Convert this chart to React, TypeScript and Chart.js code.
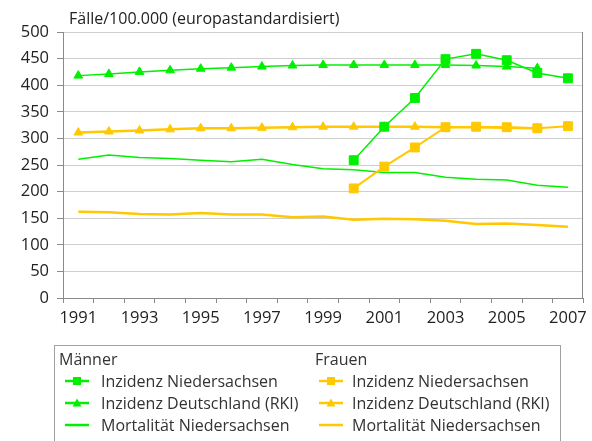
import React, { useEffect, useRef } from 'react';
import { Chart, registerables } from 'chart.js';

Chart.register(...registerables);

const years = ['1991', '1992', '1993', '1994', '1995', '1996', '1997', '1998', '1999', '2000', '2001', '2002', '2003', '2004', '2005', '2006', '2007'];

const menIncNds = [null, null, null, null, null, null, null, null, null, 259, 322, 376, 449, 459, 447, 423, 413];
const menIncRki = [418, 421, 425, 428, 431, 433, 435, 437, 438, 438, 438, 438, 438, 437, 435, 432, null];
const menMortNds = [261, 269, 264, 262, 259, 256, 261, 251, 243, 241, 236, 236, 227, 223, 222, 212, 208];
const womenIncNds = [null, null, null, null, null, null, null, null, null, 206, 247, 283, 321, 322, 321, 319, 323];
const womenIncRki = [311, 313, 315, 317, 319, 319, 320, 321, 322, 322, 322, 322, 321, 321, 320, 319, null];
const womenMortNds = [162, 161, 158, 157, 160, 157, 157, 152, 153, 147, 149, 148, 145, 139, 140, 137, 134];

const yMin = 0;
const yMax = 500;
const yStep = 50;

const yTitle = 'Fälle/100.000 (europastandardisiert)';
const groupMen = 'Männer';
const groupWomen = 'Frauen';
const seriesNames = ['Inzidenz Niedersachsen', 'Inzidenz Deutschland (RKI)', 'Mortalität Niedersachsen'];

const GREEN = '#00f000';
const YELLOW = '#ffc800';
const AXIS = '#8a8a8a';
const GRID = '#cfcfcf';
const TXT = '#222222';
const FONT = '"Open Sans", "Noto Sans", sans-serif';

function Marker({ color, kind }: { color: string; kind: 'rect' | 'tri' | 'line' }) {
  return (
    <svg width={24} height={12} style={{ display: 'block' }}>
      <line x1={0} y1={6} x2={24} y2={6} stroke={color} strokeWidth={2.5} />
      {kind === 'rect' && <rect x={8} y={2} width={8} height={8} fill={color} />}
      {kind === 'tri' && <polygon points="12,1.5 16.5,9.5 7.5,9.5" fill={color} />}
    </svg>
  );
}

export default function App() {
  const ref = useRef<HTMLCanvasElement>(null);

  useEffect(() => {
    document.body.style.margin = '0';
    const canvas = ref.current;
    if (!canvas) return;

    const borderPlugin = {
      id: 'rightBorder',
      afterDraw(chart: any) {
        const { ctx, chartArea } = chart;
        ctx.save();
        ctx.strokeStyle = AXIS;
        ctx.lineWidth = 1;
        const x = Math.round(chartArea.right) - 0.5;
        ctx.beginPath();
        ctx.moveTo(x, chartArea.top);
        ctx.lineTo(x, chartArea.bottom);
        ctx.stroke();
        ctx.restore();
      },
    };

    const mk = (data: (number | null)[], color: string, style: 'rect' | 'triangle' | false, width: number) => ({
      data,
      borderColor: color,
      backgroundColor: color,
      borderWidth: width,
      pointStyle: style || 'circle',
      pointRadius: style === 'rect' ? 6.3 : style === 'triangle' ? 5 : 0,
      pointBorderWidth: 1,
      pointBorderColor: color,
      pointBackgroundColor: color,
      tension: 0,
      spanGaps: false,
    });

    const chart = new Chart(canvas, {
      type: 'line',
      data: {
        labels: years,
        datasets: [
          { label: groupMen + ' ' + seriesNames[0], ...mk(menIncNds, GREEN, 'rect', 1.5) },
          { label: groupWomen + ' ' + seriesNames[0], ...mk(womenIncNds, YELLOW, 'rect', 2) },
          { label: groupMen + ' ' + seriesNames[1], ...mk(menIncRki, GREEN, 'triangle', 1.5) },
          { label: groupWomen + ' ' + seriesNames[1], ...mk(womenIncRki, YELLOW, 'triangle', 2.5) },
          { label: groupMen + ' ' + seriesNames[2], ...mk(menMortNds, GREEN, false, 1.5) },
          { label: groupWomen + ' ' + seriesNames[2], ...mk(womenMortNds, YELLOW, false, 2.5) },
        ] as any,
      },
      options: {
        animation: false,
        responsive: false,
        maintainAspectRatio: false,
        layout: { padding: { top: 32, right: 6, bottom: 113, left: 0 } },
        plugins: { legend: { display: false }, tooltip: { enabled: false }, title: { display: false } },
        scales: {
          x: {
            type: 'category',
            offset: true,
            grid: { display: true, drawOnChartArea: false, drawTicks: true, tickLength: 5, offset: true, color: AXIS },
            border: { display: true, color: AXIS },
            ticks: {
              autoSkip: false,
              maxRotation: 0,
              padding: 5,
              color: TXT,
              font: { family: FONT, size: 16.5 },
              callback: (_v: any, i: number) => (i % 2 === 0 ? years[i] : ''),
            },
            afterFit: (s: any) => {
              s.height = 30;
            },
          },
          y: {
            min: yMin,
            max: yMax,
            ticks: { stepSize: yStep, padding: 8, color: TXT, font: { family: FONT, size: 16.5 } },
            grid: { color: GRID, tickLength: 6, tickColor: AXIS, lineWidth: 1 },
            border: { display: true, color: AXIS },
            afterFit: (s: any) => {
              s.width = 63;
            },
          },
        },
      } as any,
      plugins: [borderPlugin],
    });
    return () => chart.destroy();
  }, []);

  const legendRow = (top: number, left: number, gap: number, color: string, kind: 'rect' | 'tri' | 'line', text: string) => (
    <div style={{ position: 'absolute', top: top - 10, left, height: 20, display: 'flex', alignItems: 'center' }}>
      <Marker color={color} kind={kind} />
      <span style={{ marginLeft: gap, whiteSpace: 'nowrap' }}>{text}</span>
    </div>
  );

  return (
    <div style={{ position: 'relative', width: 592, height: 441, overflow: 'hidden', fontFamily: FONT, background: '#fff' }}>
      <canvas ref={ref} width={592} height={441} style={{ position: 'absolute', left: 0, top: 0 }} />
      <div style={{ position: 'absolute', left: 69, top: 8, fontSize: 16, color: TXT, whiteSpace: 'nowrap', lineHeight: '20px' }}>{yTitle}</div>
      <div style={{ position: 'absolute', left: 54, top: 345, width: 505, height: 120, border: '1px solid #a0a0a0' }} />
      <div style={{ position: 'absolute', left: 0, top: 0, width: 592, height: 441, fontSize: 16, color: '#333' }}>
        <div style={{ position: 'absolute', left: 59, top: 349, lineHeight: '20px' }}>{groupMen}</div>
        <div style={{ position: 'absolute', left: 315, top: 349, lineHeight: '20px' }}>{groupWomen}</div>
        {legendRow(381, 65, 12, GREEN, 'rect', seriesNames[0])}
        {legendRow(403, 65, 12, GREEN, 'tri', seriesNames[1])}
        {legendRow(425, 65, 12, GREEN, 'line', seriesNames[2])}
        {legendRow(381, 319, 9, YELLOW, 'rect', seriesNames[0])}
        {legendRow(403, 319, 9, YELLOW, 'tri', seriesNames[1])}
        {legendRow(425, 319, 9, YELLOW, 'line', seriesNames[2])}
      </div>
    </div>
  );
}
